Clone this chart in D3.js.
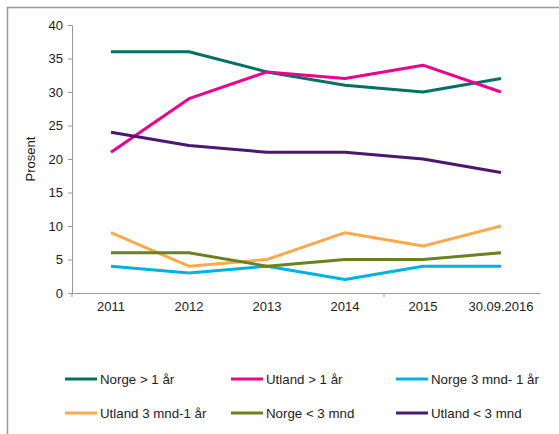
<!DOCTYPE html>
<html>
<head>
<meta charset="utf-8">
<script src="https://cdn.jsdelivr.net/npm/d3@7"></script>
<style>
  body { margin: 0; background: #fff; }
  svg text { font-family: "Liberation Sans", Arial, sans-serif; fill: #222; }
</style>
</head>
<body>
<div id="chart"></div>
<script>
const years = ["2011", "2012", "2013", "2014", "2015", "30.09.2016"];
const yTicks = [0, 5, 10, 15, 20, 25, 30, 35, 40];

const norgeOver1 = [36, 36, 33, 31, 30, 32];
const utlandOver1 = [21, 29, 33, 32, 34, 30];
const norge3mnd1 = [4, 3, 4, 2, 4, 4];
const utland3mnd1 = [9, 4, 5, 9, 7, 10];
const norgeUnder3 = [6, 6, 4, 5, 5, 6];
const utlandUnder3 = [24, 22, 21, 21, 20, 18];

const seriesNames = ["Norge > 1 år", "Utland > 1 år", "Norge 3 mnd- 1 år",
                     "Utland 3 mnd-1 år", "Norge < 3 mnd", "Utland < 3 mnd"];
const seriesValues = [norgeOver1, utlandOver1, norge3mnd1, utland3mnd1, norgeUnder3, utlandUnder3];
const colors = ["#007065", "#ec008c", "#00b2e2", "#ffa94a", "#6b801f", "#4a1870"];

const width = 559, height = 434;
const margin = { left: 72, right: 19, top: 25, bottom: 141 };

const svg = d3.select("#chart").append("svg")
    .attr("width", width)
    .attr("height", height);

// outer frame (only top and left edges visible)
svg.append("path")
    .attr("d", `M7.5,${height} V7.5 H${width}`)
    .attr("fill", "none")
    .attr("stroke", "#999")
    .attr("stroke-width", 1.5);

const x = d3.scaleBand()
    .domain(years)
    .range([margin.left, width - margin.right]);

const y = d3.scaleLinear()
    .domain([0, 40])
    .range([height - margin.bottom, margin.top]);

// y axis
const yAxis = svg.append("g")
    .attr("transform", `translate(${margin.left},0)`)
    .call(d3.axisLeft(y).tickValues(yTicks).tickSize(4).tickPadding(5));
yAxis.select(".domain").attr("stroke", "#999");
yAxis.selectAll(".tick line").attr("stroke", "#999");
yAxis.selectAll("text").style("font-size", "13px").attr("fill", "#222");

// x axis
const xAxis = svg.append("g")
    .attr("transform", `translate(0,${y(0)})`)
    .call(d3.axisBottom(x).tickSize(0).tickPadding(9).tickSizeOuter(0));
xAxis.select(".domain").attr("stroke", "#999");
xAxis.selectAll("text").style("font-size", "13px").attr("fill", "#222");
// tick marks between categories
[0, 4].forEach(i => {
    const px = margin.left + x.step() * i;
    xAxis.append("line")
        .attr("x1", px).attr("x2", px)
        .attr("y1", 0).attr("y2", 4)
        .attr("stroke", "#999");
});

svg.append("text")
    .attr("transform", `translate(35,${(y(0) + y(40)) / 2}) rotate(-90)`)
    .attr("text-anchor", "middle")
    .style("font-size", "13px")
    .text("Prosent");

const line = d3.line()
    .x((d, i) => x(years[i]) + x.bandwidth() / 2)
    .y(d => y(d));

svg.append("g")
    .selectAll("path")
    .data(seriesValues)
    .join("path")
    .attr("d", line)
    .attr("fill", "none")
    .attr("stroke", (d, i) => colors[i])
    .attr("stroke-width", 3)
    .attr("stroke-linejoin", "round");

// legend
const legendX = [65, 231, 396];
const legendY = [379, 413];
const legend = svg.append("g")
    .selectAll("g")
    .data(seriesNames)
    .join("g")
    .attr("transform", (d, i) => `translate(${legendX[i % 3]},${legendY[Math.floor(i / 3)]})`);
legend.append("line")
    .attr("x1", 0).attr("x2", 32)
    .attr("stroke", (d, i) => colors[i])
    .attr("stroke-width", 3);
legend.append("text")
    .attr("x", 35)
    .attr("dy", "0.35em")
    .style("font-size", "13.3px")
    .text(d => d);
</script>
</body>
</html>
